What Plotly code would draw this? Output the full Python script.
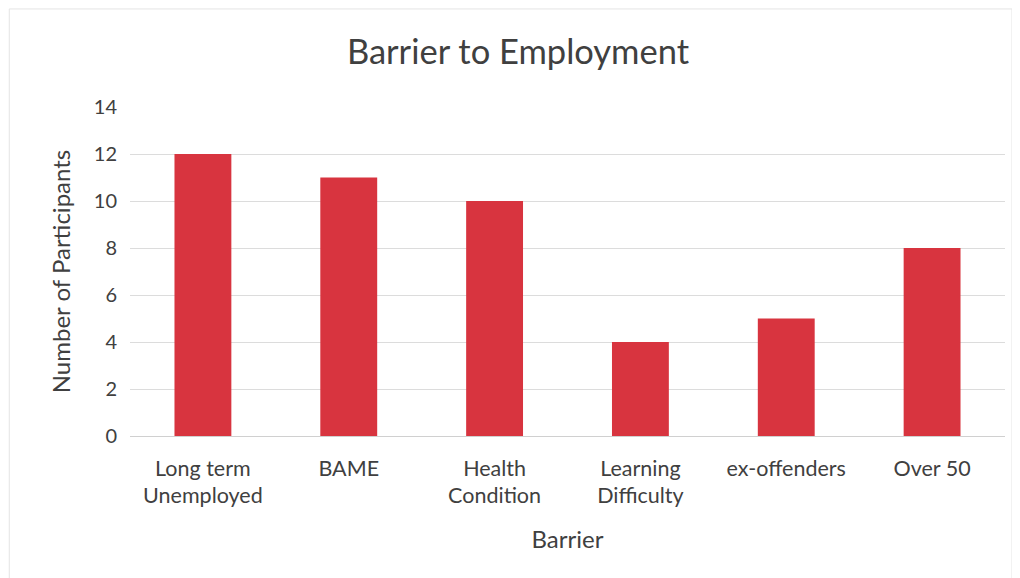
import plotly.graph_objects as go

categories = ["Long term<br>Unemployed", "BAME", "Health<br>Condition", "Learning<br>Difficulty", "ex-offenders", "Over 50"]
values = [12, 11, 10, 4, 5, 8]
y_ticks = [0, 2, 4, 6, 8, 10, 12, 14]

fig = go.Figure(go.Bar(x=categories, y=values, marker_color="#D8343F", marker_line_width=0))

font_family = "Lato, Open Sans, sans-serif"
fig.update_layout(
    width=1020, height=578,
    paper_bgcolor="white", plot_bgcolor="white",
    margin=dict(l=122, r=23, t=99, b=150, autoexpand=False),
    bargap=0.61,
    title=dict(text="Barrier to Employment", x=0.5, xanchor="center", y=1 - 44 / 578, yanchor="middle",
               font=dict(family=font_family, size=34.5, color="#404040")),
    font=dict(family=font_family, color="#404040"),
    showlegend=False,
)
fig.update_xaxes(
    title=dict(text="Barrier", font=dict(size=24, color="#404040"), standoff=23),
    tickfont=dict(size=21.5, color="#404040"),
    ticklabelstandoff=17,
    showgrid=False, showline=False, ticks="",
)
fig.update_yaxes(
    title=dict(text="Number of Participants", font=dict(size=24, color="#404040"), standoff=16),
    tickvals=y_ticks, range=[0, 14],
    tickfont=dict(size=20, color="#404040"),
    ticklabelstandoff=12,
    showgrid=True, gridcolor="#DCDCDC", gridwidth=1,
    zeroline=True, zerolinecolor="#D0D0D0", zerolinewidth=1,
    ticks="", showline=False,
)
fig.add_shape(type="rect", xref="paper", yref="paper", x0=-0.138, x1=1.008, y0=-0.7, y1=1.298,
              line=dict(color="#E4E4E4", width=1))
fig.write_html("out.html")
